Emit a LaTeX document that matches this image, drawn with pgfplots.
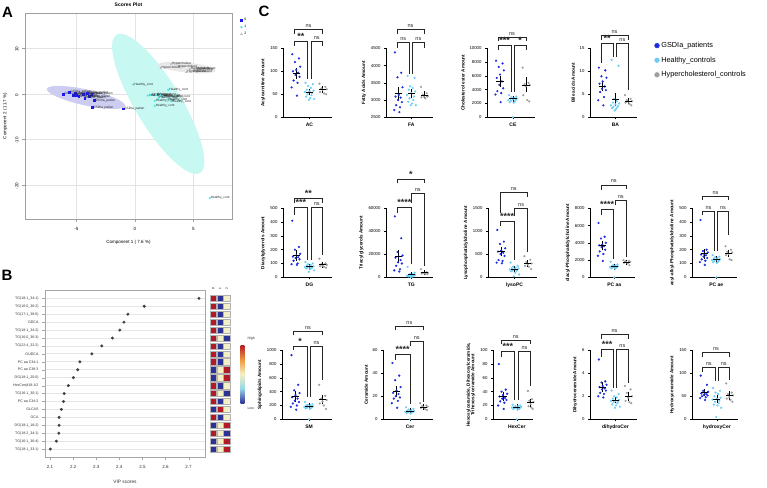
\documentclass[border=0pt]{standalone}
\usepackage{pgfplots}
\pgfplotsset{compat=1.18}
\usepackage{fontspec}
\setmainfont{Liberation Sans}
\definecolor{gblue}{RGB}{30,45,225}
\definecolor{gcyan}{RGB}{110,205,245}
\definecolor{ggrey}{RGB}{160,160,160}
\definecolor{ablue}{RGB}{25,25,240}
\definecolor{acyan}{RGB}{80,230,230}
\definecolor{agrey}{RGB}{185,185,185}
\definecolor{aellb}{RGB}{205,205,242}
\definecolor{aellc}{RGB}{200,248,242}
\definecolor{aellg}{RGB}{232,232,232}
\definecolor{hmb}{RGB}{45,50,150}
\definecolor{hmc}{RGB}{150,215,230}
\definecolor{hmy}{RGB}{245,240,195}
\definecolor{hmo}{RGB}{240,150,60}
\definecolor{hmr}{RGB}{180,25,40}
\pgfdeclareverticalshading{hml}{100bp}{color(0bp)=(hmb); color(25bp)=(hmb); color(37.5bp)=(hmc); color(50bp)=(hmy); color(62.5bp)=(hmo); color(75bp)=(hmr); color(100bp)=(hmr)}
\newcommand{\fs}[1]{\fontsize{#1}{#1}\selectfont}
\newcommand{\st}[1]{{\fs{9}\bfseries\raisebox{-1.8pt}{#1}}}
\newcommand{\brk}[6]{\draw[line width=0.6pt, black!85] ({axis cs:#1,0}|-{rel axis cs:0,#4}) -- ({axis cs:#1,0}|-{rel axis cs:0,#3}) -- ({axis cs:#2,0}|-{rel axis cs:0,#3}) node[midway, above, inner sep=1.5pt, font=\fs{5.5}]{#6} -- ({axis cs:#2,0}|-{rel axis cs:0,#5});}
\pgfplotsset{
 cst/.style={scale only axis, anchor=south west, height=69pt, axis x line*=bottom, axis y line*=left,
   axis line style={line width=0.7pt, -}, xmin=-1, xmax=2.7, xtick={1}, tick align=outside,
   major tick length=2pt, tick style={line width=0.6pt, black}, clip=false,
   ticklabel style={font=\fs{4.3}}, xticklabel style={font=\bfseries\fs{5}},
   ylabel style={font=\bfseries\fs{4.6}, yshift=-2pt},
   /pgf/number format/assume math mode=true, scaled y ticks=false,
   yticklabel style={/pgf/number format/fixed, /pgf/number format/1000 sep={}}},
 pb/.style={only marks, mark=*, mark size=0.9pt, color=gblue},
 pc/.style={only marks, mark=*, mark size=0.9pt, color=gcyan},
 pg/.style={only marks, mark=*, mark size=0.9pt, color=ggrey},
 msem/.style={black, only marks, mark=-, mark size=3.6pt, mark options={line width=0.7pt},
   error bars/.cd, y dir=both, y explicit, error mark options={mark size=2pt, line width=0.6pt, black},
   error bar style={line width=0.6pt, black}}
}
\begin{document}
\begin{tikzpicture}
\path[use as bounding box] (0,0) rectangle (767pt,-487pt);
\node[font=\bfseries\fs{15}] at (7.5pt,-12.5pt) {A};
\node[font=\bfseries\fs{15}] at (7pt,-275.5pt) {B};
\node[font=\bfseries\fs{15}] at (264pt,-11pt) {C};
% ---------------- Panel A
\begin{axis}[at={(25pt,-219pt)}, anchor=south west, scale only axis, width=207pt, height=206pt,
  xmin=-9.4, xmax=8.3, ymin=-27.5, ymax=17.8, xtick={-5,0,5}, ytick={-20,-10,0,10},
  grid=major, grid style={gray!22, line width=0.5pt}, axis line style={gray!75, line width=0.6pt},
  tick style={gray!75}, tick align=outside, major tick length=3pt, xtick pos=left, ytick pos=left,
  ticklabel style={font=\fs{4.5}}, yticklabel style={rotate=90, anchor=south, xshift=-1pt},
  xticklabel style={yshift=-1.5pt},
  /pgf/number format/assume math mode=true,
  xlabel={Component 1 ( 7.6 \%)}, ylabel={Component 2 ( 11.7 \%)}, label style={font=\fs{4.5}},
  xlabel style={yshift=-3pt}, ylabel style={yshift=1pt},
  title={Scores Plot}, title style={font=\bfseries\fs{5}, yshift=-3pt}, clip=false,
  legend entries={0,1,2}, legend cell align=left,
  legend style={at={(1.04,0.985)}, anchor=north west, draw=none, fill=none, font=\fs{3.5}, inner sep=0pt, row sep=-1pt}]
\addlegendimage{only marks, mark=square*, mark size=1pt, ablue}
\addlegendimage{only marks, mark=*, mark size=1pt, acyan}
\addlegendimage{only marks, mark=triangle*, mark size=1.1pt, agrey}
\fill[aellc, rotate around={-58.9:(axis cs:1.99,-2.19)}] (axis cs:1.99,-2.19) ellipse [x radius=80.7pt, y radius=23pt];
\fill[aellb, rotate around={-12.3:(axis cs:-4.19,-0.77)}] (axis cs:-4.19,-0.77) ellipse [x radius=40pt, y radius=8pt];
\fill[aellg, rotate around={-6:(axis cs:4.44,5.8)}] (axis cs:4.44,5.8) ellipse [x radius=29pt, y radius=5pt];
\addplot[only marks, mark=square*, mark size=0.9pt, ablue, nodes near coords={GSDIa\_patien},
  nodes near coords style={anchor=west, font=\fs{3.2}, text=black!85, inner sep=0.8pt}]
  coordinates {(-6.1,0.0) (-5.6,0.4) (-5.1,0.1) (-5.3,-0.2) (-4.8,-0.5) (-4.4,0.0) (-4.1,0.2) (-3.9,-0.5) (-3.7,0.0) (-4.3,-0.9) (-3.5,-1.4) (-3.65,-2.95) (-1.0,-3.25) (-5.0,-0.3)};
\addplot[only marks, mark=*, mark size=0.9pt, acyan, nodes near coords={Healthy\_cont},
  nodes near coords style={anchor=west, font=\fs{3.2}, text=black!85, inner sep=0.8pt}]
  coordinates {(-0.14,2.1) (2.85,0.9) (1.1,-0.35) (1.4,-0.2) (1.7,-1.5) (1.7,-2.6) (3.0,-0.5) (2.4,-0.6) (2.8,-1.2) (3.1,-1.6) (1.3,-0.3) (2.0,-0.9) (1.8,-0.2) (6.4,-22.9) (2.2,-0.3)};
\addplot[only marks, mark=triangle*, mark size=1pt, agrey, nodes near coords={Hypercholest},
  nodes near coords style={anchor=west, font=\fs{3.2}, text=black!85, inner sep=0.8pt}]
  coordinates {(3.1,6.6) (2.2,5.7) (4.7,5.5) (4.4,4.8) (5.0,5.3) (5.2,5.6) (4.9,5.0) (3.6,6.0)};
\end{axis}
% ---------------- Panel B
\begin{axis}[at={(45pt,-457pt)}, anchor=south west, scale only axis, width=160pt, height=167pt,
  xmin=2.078, xmax=2.771, ymin=0, ymax=21.05, xtick={2.1,2.2,2.3,2.4,2.5,2.6,2.7},
  ytick={1,...,20},
  yticklabels={TG(18:1\_33:1),TG(16:1\_36:4),TG(18:2\_34:1),DG(18:1\_18:2),GCA,GLCAS,PC aa C34:2,TG(16:1\_30:1),HexCer(d18:1/2,DG(18:1\_20:0),PC aa C38:3,PC aa C34:1,GUDCA,TG(22:4\_32:2),TG(16:0\_36:3),TG(18:1\_34:2),GDCA,TG(17:1\_38:6),TG(16:0\_36:2),TG(18:1\_34:1)},
  ymajorgrids, grid style={gray!20, line width=0.8pt}, axis line style={gray!70, line width=0.6pt},
  tick style={gray!70}, tick align=outside, major tick length=3pt, xtick pos=left, ytick pos=left,
  yticklabel style={font=\fs{3.6}, text=black!80}, xticklabel style={font=\fs{4.5}, text=black!80, yshift=-2pt},
  /pgf/number format/assume math mode=true,
  xlabel={VIP scores}, xlabel style={font=\fs{4.8}, text=black!80, yshift=-5pt}]
\addplot[only marks, mark=*, mark size=1.3pt, black!75] coordinates {(2.745,20) (2.508,19) (2.437,18) (2.420,17) (2.402,16) (2.370,15) (2.324,14) (2.281,13) (2.229,12) (2.220,11) (2.201,10) (2.179,9) (2.161,8) (2.158,7) (2.149,6) (2.139,5) (2.139,4) (2.138,3) (2.127,2) (2.101,1)};
\end{axis}
\begin{axis}[at={(210pt,-457pt)}, anchor=south west, scale only axis, width=20pt, height=167pt,
  xmin=-0.5, xmax=2.5, ymin=0, ymax=21.05,
  colormap={hm}{rgb255(0cm)=(45,50,150) rgb255(1cm)=(245,240,195) rgb255(2cm)=(180,25,40)},
  point meta min=-1, point meta max=1, axis line style={draw=none}, ytick=\empty,
  xtick={0,1,2}, xticklabels={0,1,2}, xticklabel pos=right, major tick length=0pt,
  xticklabel style={rotate=90, font=\fs{3.2}, anchor=west, inner sep=0.5pt}, clip=false]
\addplot[scatter, only marks, mark=square*, mark size=3.15pt, point meta=explicit,
  scatter/use mapped color={draw=gray!60, fill=mapped color}]
  table[meta=c, row sep=\\] {x y c\\
0 20 1\\ 1 20 -1\\ 2 20 0\\
0 19 1\\ 1 19 -1\\ 2 19 0\\
0 18 1\\ 1 18 -1\\ 2 18 0\\
0 17 1\\ 1 17 -1\\ 2 17 0\\
0 16 1\\ 1 16 -1\\ 2 16 0\\
0 15 1\\ 1 15 0\\ 2 15 -1\\
0 14 1\\ 1 14 -1\\ 2 14 0\\
0 13 1\\ 1 13 -1\\ 2 13 0\\
0 12 1\\ 1 12 -1\\ 2 12 0\\
0 11 -1\\ 1 11 0\\ 2 11 1\\
0 10 -1\\ 1 10 0\\ 2 10 1\\
0 9 1\\ 1 9 -1\\ 2 9 0\\
0 8 1\\ 1 8 0\\ 2 8 -1\\
0 7 1\\ 1 7 -1\\ 2 7 0\\
0 6 -1\\ 1 6 1\\ 2 6 0\\
0 5 1\\ 1 5 -1\\ 2 5 0\\
0 4 -1\\ 1 4 0\\ 2 4 1\\
0 3 1\\ 1 3 0\\ 2 3 -1\\
0 2 -1\\ 1 2 0\\ 2 2 1\\
0 1 -1\\ 1 1 0\\ 2 1 1\\
};
\end{axis}
\shade[shading=hml] (240.7pt,-345pt) rectangle (244.3pt,-403pt);
\node[font=\fs{3.5}, anchor=west, text=black!80] at (244pt,-339pt) {High};
\node[font=\fs{3.5}, anchor=west, text=black!80] at (244pt,-408pt) {Low};
% ---------------- Panel C row 1
\begin{axis}[cst, at={(283pt,-117.3pt)}, width=49pt, ymin=0, ymax=150, ytick={0,50,100,150}, xticklabels={AC}, ylabel={Acylcarnitine Amount}]
\addplot[pb] coordinates {(-0.3,137) (0.2,128) (-0.1,120) (0.3,110) (0,103) (-0.25,100) (0.15,97) (-0.05,92) (0.25,88) (-0.2,80) (0.1,75) (-0.35,65) (0.05,47)};
\addplot[pc] coordinates {(0.7,75) (1.25,72) (0.9,68) (1.1,64) (0.8,60) (1.3,58) (1,56) (0.65,55) (1.2,53) (0.85,50) (1.15,48) (0.75,45) (1.05,42) (1.35,40) (0.95,38)};
\addplot[pg] coordinates {(1.75,73) (2.2,66) (1.9,63) (2.3,61) (2,60) (1.8,55) (2.1,52) (2.25,50)};
\addplot[msem] coordinates {(0,95.5) +- (0,7) (1,55) +- (0,3) (2,60) +- (0,3)};
\brk{-0.15}{0.85}{1.096}{1.03}{0.55}{\st{**}}
\brk{1.1}{2}{1.096}{0.55}{1.03}{ns}
\brk{-0.15}{2}{1.275}{1.21}{1.21}{ns}
\end{axis}
\begin{axis}[cst, at={(386pt,-117.3pt)}, width=47pt, ymin=2500, ymax=4500, ytick={2500,3000,3500,4000,4500}, xticklabels={FA}, ylabel={Fatty Acids Amount}]
\addplot[pb] coordinates {(-0.3,4380) (0.2,3790) (-0.1,3660) (0.3,3370) (0,3150) (-0.25,3100) (0.15,3070) (-0.05,3000) (0.25,2940) (-0.2,2850) (0.1,2790) (-0.35,2710) (0.05,2650)};
\addplot[pc] coordinates {(0.7,3700) (1.25,3640) (0.9,3400) (1.1,3350) (0.8,3300) (1.3,3250) (1,3200) (0.65,3150) (1.2,3100) (0.85,3050) (1.15,3000) (0.75,2950) (1.05,2900) (1.35,2850) (0.95,2850)};
\addplot[pg] coordinates {(1.75,3380) (2.2,3200) (1.9,3150) (2.3,3120) (2,3100) (1.8,3080) (2.1,3050) (2.25,3100)};
\addplot[msem] coordinates {(0,3190) +- (0,140) (1,3180) +- (0,70) (2,3150) +- (0,40)};
\brk{-0.15}{0.85}{1.08}{1.01}{0.63}{ns}
\brk{1.1}{2}{1.08}{0.63}{1.01}{ns}
\brk{-0.15}{2}{1.275}{1.21}{1.21}{ns}
\end{axis}
\begin{axis}[cst, at={(487pt,-117.3pt)}, width=48pt, ymin=0, ymax=10000, ytick={0,2000,4000,6000,8000,10000}, xticklabels={CE}, ylabel={Cholesterol ester Amount}]
\addplot[pb] coordinates {(-0.3,8200) (0.2,7800) (-0.1,7300) (0.3,6800) (0,6200) (-0.25,5700) (0.15,5200) (-0.05,4700) (0.25,4200) (-0.2,3800) (0.1,3500) (-0.35,3300) (0.05,2200)};
\addplot[pc] coordinates {(0.7,3200) (1.25,3000) (0.9,2900) (1.1,2800) (0.8,2700) (1.3,2700) (1,2600) (0.65,2500) (1.2,2500) (0.85,2400) (1.15,2300) (0.75,2200) (1.05,2100) (1,0)};
\addplot[pg] coordinates {(1.75,7200) (2.2,5000) (1.9,4800) (2.3,4700) (2,4500) (1.8,3200) (2.1,2500) (2.25,2300)};
\addplot[msem] coordinates {(0,5200) +- (0,550) (1,2700) +- (0,150) (2,4700) +- (0,800)};
\brk{-0.15}{0.85}{1.05}{0.98}{0.37}{\st{***}}
\brk{1.1}{2}{1.05}{0.37}{0.98}{\st{*}}
\brk{-0.15}{2}{1.153}{1.1}{1.1}{ns}
\end{axis}
\begin{axis}[cst, at={(590pt,-117.3pt)}, width=47pt, ymin=0, ymax=15, ytick={0,5,10,15}, xticklabels={BA}, ylabel={Bile acids Amount},
  legend entries={GSDIa\_patients,Healthy\_controls,Hypercholesterol\_controls}, legend cell align=left,
  legend style={at={(1.37,1.12)}, anchor=north west, draw=none, fill=none, font=\fs{7.3}, inner sep=0pt, row sep=3.8pt}]
\addlegendimage{only marks, mark=*, mark size=2.4pt, gblue}
\addlegendimage{only marks, mark=*, mark size=2.4pt, gcyan}
\addlegendimage{only marks, mark=*, mark size=2.4pt, ggrey}
\addplot[pb] coordinates {(-0.3,10.8) (0.2,10.2) (-0.1,8.9) (0.3,8.6) (0,7.8) (-0.25,7.3) (0.15,6.7) (-0.05,6.2) (0.25,5.9) (-0.2,5.5) (0.1,4.4) (-0.35,3.7) (0.05,2.6)};
\addplot[pc] coordinates {(0.7,12.5) (1.25,11.2) (0.9,4.0) (1.1,3.5) (0.8,3.2) (1.3,3.0) (1,2.8) (0.65,2.6) (1.2,2.5) (0.85,2.3) (1.15,2.2) (0.75,2.0) (1.05,1.8) (0.95,1.5)};
\addplot[pg] coordinates {(1.75,4.8) (2.2,4.0) (1.9,3.7) (2.3,3.5) (2,3.4) (1.8,3.2) (2.1,2.9) (2.25,2.6)};
\addplot[msem] coordinates {(0,6.8) +- (0,0.7) (1,3.8) +- (0,1.0) (2,3.5) +- (0,0.25)};
\brk{-0.15}{0.85}{1.07}{0.79}{0.88}{\st{**}}
\brk{1.1}{2}{1.07}{0.88}{0.4}{ns}
\brk{-0.15}{2}{1.185}{1.12}{1.12}{ns}
\end{axis}
% ---------------- Panel C row 2
\begin{axis}[cst, at={(283pt,-277.3pt)}, width=49pt, ymin=0, ymax=500, ytick={0,100,200,300,400,500}, xticklabels={DG}, ylabel={Diacylglycerols Amount}]
\addplot[pb] coordinates {(-0.3,410) (0.2,220) (-0.1,200) (0.3,170) (0,160) (-0.25,150) (0.15,145) (-0.05,140) (0.25,130) (-0.2,120) (0.1,100) (-0.35,95) (0.05,90)};
\addplot[pc] coordinates {(0.7,110) (1.25,100) (0.9,95) (1.1,90) (0.8,85) (1.3,80) (1,78) (0.65,75) (1.2,72) (0.85,70) (1.15,68) (0.75,65) (1.05,60) (1.35,50) (0.95,40)};
\addplot[pg] coordinates {(1.75,135) (2.2,100) (1.9,95) (2.3,90) (2,85) (1.8,80) (2.1,75) (2.25,70)};
\addplot[msem] coordinates {(0,156) +- (0,24) (1,76) +- (0,5) (2,91) +- (0,7)};
\brk{-0.15}{0.85}{1.01}{0.9}{0.25}{\st{***}}
\brk{1.1}{2}{1.01}{0.25}{0.32}{ns}
\brk{-0.15}{2}{1.145}{1.08}{1.08}{\st{**}}
\end{axis}
\begin{axis}[cst, at={(386pt,-277.3pt)}, width=47pt, ymin=0, ymax=60000, ytick={0,20000,40000,60000}, xticklabels={TG}, ylabel={Triacylglycerols Amount}]
\addplot[pb] coordinates {(-0.3,53000) (0.2,34000) (-0.1,22000) (0.3,19000) (0,18000) (-0.25,17000) (0.15,15000) (-0.05,13000) (0.25,12000) (-0.2,10000) (0.1,7000) (-0.35,6000) (0.05,5000)};
\addplot[pc] coordinates {(0.7,9000) (1.25,4000) (0.9,3000) (1.1,2500) (0.8,2000) (1.3,2000) (1,1800) (0.65,1500) (1.2,1500) (0.85,1200) (1.15,1000) (0.75,800) (1.05,500) (0.95,300)};
\addplot[pg] coordinates {(1.75,7000) (2.2,4500) (1.9,4000) (2.3,3800) (2,3500) (1.8,3200) (2.1,3000) (2.25,2800)};
\addplot[msem] coordinates {(0,18000) +- (0,4000) (1,2200) +- (0,600) (2,4000) +- (0,500)};
\brk{-0.1}{1}{1.01}{0.93}{0.2}{\st{****}}
\brk{1}{2}{1.217}{1.07}{0.17}{ns}
\brk{-0.1}{2}{1.425}{1.36}{1.36}{\st{*}}
\end{axis}
\begin{axis}[cst, at={(488pt,-277.3pt)}, width=49pt, ymin=0, ymax=1500, ytick={0,500,1000,1500}, xticklabels={lysoPC}, ylabel={Lysophosphatidylcholine Amount}]
\addplot[pb] coordinates {(-0.3,1030) (0.2,775) (-0.1,725) (0.3,630) (0,580) (-0.25,560) (0.15,535) (-0.05,505) (0.25,465) (-0.2,375) (0.1,355) (-0.35,320) (0.05,305)};
\addplot[pc] coordinates {(0.7,320) (1.25,250) (0.9,230) (1.1,210) (0.8,200) (1.3,190) (1,180) (0.65,170) (1.2,160) (0.85,150) (1.15,140) (0.75,130) (1.05,100) (1.35,60) (0.95,20)};
\addplot[pg] coordinates {(1.75,460) (2.2,380) (1.9,330) (2.3,300) (2,280) (1.8,250) (2.1,230) (2.25,180)};
\addplot[msem] coordinates {(0,560) +- (0,55) (1,180) +- (0,20) (2,300) +- (0,30)};
\brk{-0.1}{1}{0.806}{0.74}{0.25}{\st{****}}
\brk{1}{2}{1.0}{0.89}{0.37}{ns}
\brk{-0.1}{2}{1.23}{0.93}{1.17}{ns}
\end{axis}
\begin{axis}[cst, at={(590pt,-277.3pt)}, width=45pt, ymin=0, ymax=8000, ytick={0,2000,4000,6000,8000}, xticklabels={PC aa}, ylabel={diacyl-Phosphatidylcholine Amount}]
\addplot[pb] coordinates {(-0.3,6300) (0.2,4700) (-0.1,4500) (0.3,4000) (0,3800) (-0.25,3700) (0.15,3600) (-0.05,3500) (0.25,3200) (-0.2,3000) (0.1,2700) (-0.35,2500) (0.05,1900)};
\addplot[pc] coordinates {(0.7,1800) (1.25,1500) (0.9,1400) (1.1,1350) (0.8,1300) (1.3,1280) (1,1250) (0.65,1200) (1.2,1200) (0.85,1150) (1.15,1100) (0.75,1050) (1.05,1000) (1,0)};
\addplot[pg] coordinates {(1.75,2000) (2.2,1900) (1.9,1850) (2.3,1800) (2,1750) (1.8,1700) (2.1,1600) (2.25,1400)};
\addplot[msem] coordinates {(0,3650) +- (0,300) (1,1230) +- (0,100) (2,1750) +- (0,70)};
\brk{-0.1}{0.9}{0.985}{0.9}{0.27}{\st{****}}
\brk{1.05}{2}{1.12}{1.05}{0.3}{ns}
\brk{-0.1}{2}{1.34}{1.26}{1.28}{ns}
\end{axis}
\begin{axis}[cst, at={(692pt,-277.3pt)}, width=45pt, ymin=0, ymax=500, ytick={0,100,200,300,400,500}, xticklabels={PC ae}, ylabel={acyl-alkyl-Phosphatidylcholine Amount}]
\addplot[pb] coordinates {(-0.3,415) (0.2,200) (-0.1,190) (0.3,180) (0,170) (-0.25,165) (0.15,160) (-0.05,150) (0.25,140) (-0.2,130) (0.1,120) (-0.35,110) (0.05,90)};
\addplot[pc] coordinates {(0.7,160) (1.25,150) (0.9,145) (1.1,140) (0.8,135) (1.3,130) (1,130) (0.65,125) (1.2,120) (0.85,120) (1.15,115) (0.75,110) (1.05,105) (1,0)};
\addplot[pg] coordinates {(1.75,225) (2.2,200) (1.9,185) (2.3,180) (2,170) (1.8,160) (2.1,130) (2.25,125)};
\addplot[msem] coordinates {(0,171) +- (0,22) (1,130) +- (0,10) (2,172) +- (0,12)};
\brk{-0.15}{0.85}{0.95}{0.9}{0.38}{ns}
\brk{1.1}{2}{0.95}{0.38}{0.61}{ns}
\brk{-0.15}{2}{1.18}{1.12}{1.12}{ns}
\end{axis}
% ---------------- Panel C row 3
\begin{axis}[cst, at={(282pt,-419.3pt)}, width=50pt, ymin=0, ymax=1000, ytick={0,200,400,600,800,1000}, xticklabels={SM}, ylabel={Sphingolipids Amount}]
\addplot[pb] coordinates {(-0.3,930) (0.2,500) (-0.1,420) (0.3,380) (0,350) (-0.25,320) (0.15,300) (-0.05,270) (0.25,250) (-0.2,230) (0.1,200) (-0.35,180) (0.05,140)};
\addplot[pc] coordinates {(0.7,250) (1.25,220) (0.9,210) (1.1,200) (0.8,200) (1.3,190) (1,185) (0.65,180) (1.2,175) (0.85,170) (1.15,165) (0.75,160) (1.05,150) (1,0)};
\addplot[pg] coordinates {(1.75,500) (2.2,340) (1.9,300) (2.3,280) (2,260) (1.8,230) (2.1,200) (2.25,150)};
\addplot[msem] coordinates {(0,330) +- (0,55) (1,195) +- (0,14) (2,282) +- (0,38)};
\brk{-0.15}{0.85}{1.06}{1.0}{0.33}{\st{*}}
\brk{1.1}{2}{1.06}{0.33}{0.57}{ns}
\brk{-0.15}{2}{1.28}{1.22}{1.22}{ns}
\end{axis}
\begin{axis}[cst, at={(383pt,-419.3pt)}, width=50pt, ymin=0, ymax=60, ytick={0,20,40,60}, xticklabels={Cer}, ylabel={Ceramide Amount}]
\addplot[pb] coordinates {(-0.3,49) (0.2,38) (-0.1,34) (0.3,28) (0,25) (-0.25,23) (0.15,22) (-0.05,20) (0.25,19) (-0.2,18) (0.1,16) (-0.35,14) (0.05,10)};
\addplot[pc] coordinates {(0.7,10.5) (1.25,9) (0.9,8.5) (1.1,8) (0.8,7.5) (1.3,7) (1,7) (0.65,6.5) (1.2,6.5) (0.85,6) (1.15,6) (0.75,5.5) (1.05,5) (1,0)};
\addplot[pg] coordinates {(1.75,14) (2.2,12) (1.9,11.5) (2.3,11) (2,10.5) (1.8,10) (2.1,9) (2.25,8)};
\addplot[msem] coordinates {(0,24) +- (0,3) (1,7.3) +- (0,0.6) (2,10.8) +- (0,0.7)};
\brk{-0.1}{1}{0.94}{0.86}{0.22}{\st{****}}
\brk{1}{2}{1.13}{1.06}{0.255}{ns}
\brk{-0.1}{2}{1.35}{1.29}{1.3}{ns}
\end{axis}
\begin{axis}[cst, at={(493pt,-419.3pt)}, width=40pt, xmin=-0.72, xmax=2.17, ymin=0, ymax=100, ytick={0,20,40,60,80,100}, xticklabels={HexCer, Hex2Cer, Hex3Cer}, ylabel={Hexosylceramide, Dihexosylceramide,\\Trihexosylceramide Amount}, ylabel style={align=center}]
\addplot[pb] coordinates {(-0.3,80) (0.2,43) (-0.1,40) (0.3,37) (0,35) (-0.25,33) (0.15,31) (-0.05,30) (0.25,28) (-0.2,26) (0.1,24) (-0.35,20) (0.05,15)};
\addplot[pc] coordinates {(0.7,21) (1.25,20) (0.9,19) (1.1,19) (0.8,18) (1.3,18) (1,17) (0.65,17) (1.2,16) (0.85,16) (1.15,15) (0.75,15) (1.05,14) (1,0)};
\addplot[pg] coordinates {(1.8,41) (2.1,29) (1.9,27) (2.2,25) (2,22) (1.85,19) (2.05,17) (2.15,15)};
\addplot[msem] coordinates {(0,33) +- (0,4) (1,18) +- (0,1.3) (2,24) +- (0,3)};
\brk{-0.15}{0.85}{0.99}{0.9}{0.28}{\st{***}}
\brk{1.1}{2}{0.99}{0.28}{0.48}{ns}
\brk{-0.15}{2}{1.15}{1.09}{1.09}{ns}
\end{axis}
\begin{axis}[cst, at={(590pt,-419.3pt)}, width=47pt, ymin=0, ymax=6, ytick={0,2,4,6}, xticklabels={dihydroCer}, ylabel={Dihydroceramide Amount}]
\addplot[pb] coordinates {(-0.3,5.2) (0.2,3.3) (-0.1,3.2) (0.3,3.0) (0,2.9) (-0.25,2.8) (0.15,2.7) (-0.05,2.6) (0.25,2.5) (-0.2,2.3) (0.1,2.2) (-0.35,2.0) (0.05,1.9)};
\addplot[pc] coordinates {(0.7,2.5) (1.25,2.2) (0.9,2.0) (1.1,1.9) (0.8,1.8) (1.3,1.7) (1,1.6) (0.65,1.6) (1.2,1.5) (0.85,1.5) (1.15,1.4) (0.75,1.3) (1.05,1.2) (1.35,1.1) (0.95,1.0)};
\addplot[pg] coordinates {(1.75,2.9) (2.2,2.6) (1.9,2.3) (2.3,2.0) (2,1.9) (1.8,1.6) (2.1,1.5) (2.25,1.4)};
\addplot[msem] coordinates {(0,2.8) +- (0,0.23) (1,1.65) +- (0,0.1) (2,2.0) +- (0,0.2)};
\brk{-0.15}{0.85}{1.01}{0.91}{0.45}{\st{***}}
\brk{1.1}{2}{1.01}{0.45}{0.52}{ns}
\brk{-0.15}{2}{1.23}{1.17}{1.17}{ns}
\end{axis}
\begin{axis}[cst, at={(692pt,-419.3pt)}, width=46pt, ymin=0, ymax=150, ytick={0,50,100,150}, xticklabels={hydroxyCer}, ylabel={Hydroxyceramide Amount}]
\addplot[pb] coordinates {(-0.3,95) (0.2,75) (-0.1,62) (0.3,60) (0,58) (-0.25,56) (0.15,55) (-0.05,53) (0.25,52) (-0.2,50) (0.1,48) (-0.35,46) (0.05,42)};
\addplot[pc] coordinates {(0.7,68) (1.25,62) (0.9,58) (1.1,55) (0.8,50) (1.3,47) (1,45) (0.65,43) (1.2,40) (0.85,38) (1.15,35) (0.75,32) (1.05,30) (1.35,25) (0.95,5)};
\addplot[pg] coordinates {(1.75,78) (2.2,58) (1.9,55) (2.3,52) (2,48) (1.8,45) (2.1,42) (2.25,38)};
\addplot[msem] coordinates {(0,58) +- (0,4) (1,44) +- (0,4) (2,52) +- (0,5)};
\brk{-0.15}{0.85}{0.75}{0.69}{0.55}{ns}
\brk{1.1}{2}{0.75}{0.55}{0.57}{ns}
\brk{-0.15}{2}{0.976}{0.91}{0.91}{ns}
\end{axis}
\end{tikzpicture}
\end{document}
